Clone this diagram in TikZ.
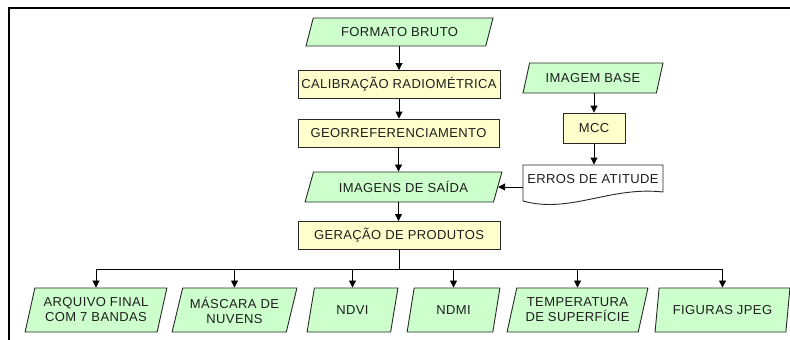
\documentclass[tikz,border=0pt]{standalone}
\usepackage{fontspec}
\newfontfamily\labfont{Liberation Sans}[LetterSpace=3]
\usetikzlibrary{shapes.geometric,arrows.meta,backgrounds}
\definecolor{iogreen}{RGB}{204,255,204}
\definecolor{procyellow}{RGB}{255,255,204}
\definecolor{edgecol}{RGB}{40,40,40}
\definecolor{txtcol}{RGB}{30,30,30}
\tikzset{
  boxbase/.style={draw=edgecol, line width=0.9pt, text=txtcol,
    font=\labfont\fontsize{13}{15}\selectfont, inner sep=0pt, align=center},
  iobox/.style={boxbase, trapezium, trapezium left angle=62, trapezium right angle=118,
    trapezium stretches=true, fill=iogreen, minimum height=28pt},
  outbox/.style={boxbase, trapezium, trapezium left angle=71, trapezium right angle=109,
    trapezium stretches=true, fill=iogreen, minimum height=44pt},
  procbox/.style={boxbase, rectangle, fill=procyellow, minimum height=28pt},
  arr/.style={draw=black, line width=0.9pt, -{Triangle[length=7pt,width=7pt]}},
  link/.style={draw=black, line width=0.9pt},
}
\begin{document}
\begin{tikzpicture}[x=1pt,y=-1pt]
\useasboundingbox (0,0) rectangle (790,340);
\draw[line width=1.3pt] (9,345) -- (9,8) -- (795,8);

% main column
\node[iobox, minimum width=187pt] (fmt) at (399.5,32) {FORMATO BRUTO};
\node[procbox, minimum width=202pt] (cal) at (399,84.5) {CALIBRAÇÃO RADIOMÉTRICA};
\node[procbox, minimum width=201pt] (geo) at (398.5,133) {GEORREFERENCIAMENTO};
\node[iobox, minimum width=197pt, minimum height=30pt] (img) at (403.5,187) {IMAGENS DE SAÍDA};
\node[procbox, minimum width=202pt] (gen) at (399,235.5) {GERAÇÃO DE PRODUTOS};

% side column
\node[iobox, minimum width=140pt, minimum height=30pt] (base) at (593,78) {IMAGEM BASE};
\node[procbox, minimum width=62pt, minimum height=30pt] (mcc) at (594,128) {MCC};
\node[boxbase, draw=none, minimum width=140pt, minimum height=28pt] (err) at (593,179) {ERROS DE ATITUDE};
\begin{scope}[on background layer]
  \draw[draw=edgecol, line width=0.9pt, fill=white, shift={(err.center)}]
    (-70,-14) -- (70,-14) -- (70,13) .. controls (17,7) and (-23,35) .. (-70,22) -- cycle;
\end{scope}

% outputs
\node[outbox, minimum width=142pt] (o1) at (96,310) {ARQUIVO FINAL\\COM 7 BANDAS};
\node[outbox, minimum width=125pt] (o2) at (234.5,310) {MÁSCARA DE\\NUVENS};
\node[outbox, minimum width=91pt] (o3) at (352.5,310) {NDVI};
\node[outbox, minimum width=93pt] (o4) at (453.5,310) {NDMI};
\node[outbox, minimum width=141pt] (o5) at (577.5,310) {TEMPERATURA\\DE SUPERFÍCIE};
\node[outbox, minimum width=135pt] (o6) at (722.5,310) {FIGURAS JPEG};

% connectors
\draw[arr] (fmt.south -| cal.north) -- (cal.north);
\draw[arr] (cal.south) -- (cal.south |- geo.north);
\draw[arr] (geo.south) -- (geo.south |- img.north);
\draw[arr] (geo.south |- img.south) -- (geo.south |- gen.north);
\draw[arr] (mcc.north |- base.south) -- (mcc.north);
\draw[arr] (mcc.south) -- (mcc.south |- err.north);
\draw[arr] (err.west |- img.east) -- (img.east);

\coordinate (bus) at ([yshift=-19pt]gen.south);
\draw[link] (gen.south) -- (bus);
\draw[link] (bus -| o1.north) -- (bus -| o6.north);
\foreach \n in {o1,o2,o3,o4,o5,o6}
  \draw[arr] (bus -| \n.north) -- (\n.north);
\end{tikzpicture}
\end{document}
